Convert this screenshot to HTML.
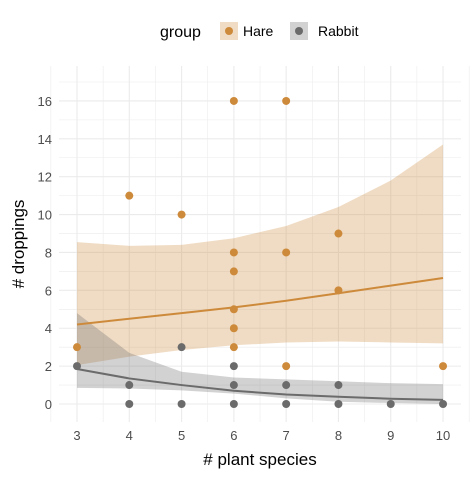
<!DOCTYPE html>
<html><head><meta charset="utf-8"><style>
body{margin:0;background:#fff;font-family:"Liberation Sans",Arial,sans-serif}
</style></head><body>
<svg id="c" width="475" height="475" xmlns="http://www.w3.org/2000/svg">
<g id="grid"></g><g id="bands"></g><g id="lines"></g><g id="pts"></g><g id="axes"></g>
<text x="160" y="37" font-size="16">group</text>
<rect x="220" y="22" width="18" height="18" fill="#cd8a3b" fill-opacity="0.3"/>
<circle cx="229" cy="31" r="4" fill="#cd8a3b"/>
<text x="243" y="36" font-size="14">Hare</text>
<rect x="290" y="22" width="18" height="18" fill="#6b6b6b" fill-opacity="0.3"/>
<circle cx="299" cy="31" r="4" fill="#6b6b6b"/>
<text x="318" y="36" font-size="14">Rabbit</text>
<text x="260" y="465" font-size="17" text-anchor="middle"># plant species</text>
<text transform="translate(24,244) rotate(-90)" font-size="17" text-anchor="middle"># droppings</text>
</svg>
<script>
const xTicks=[3,4,5,6,7,8,9,10];
const yTicks=[0,2,4,6,8,10,12,14,16];
const hareX=[3,4,5,6,6,6,6,6,6,7,7,7,8,8,10];
const hareY=[3,11,10,16,8,7,5,4,3,16,8,2,9,6,2];
const rabbitX=[3,4,4,5,5,6,6,6,7,7,8,8,9,10];
const rabbitY=[2,1,0,3,0,2,1,0,1,0,1,0,0,0];
const fitX=[3,4,5,6,7,8,9,10];
const hareFit=[4.2,4.5,4.8,5.1,5.45,5.85,6.25,6.65];
const hareUp=[8.55,8.35,8.4,8.75,9.4,10.4,11.8,13.7];
const hareLo=[2.05,2.5,2.85,3.1,3.25,3.3,3.25,3.2];
const rabFit=[1.85,1.35,1.0,0.7,0.5,0.38,0.28,0.22];
const rabUp=[4.8,2.7,1.7,1.4,1.3,1.2,1.1,1.05];
const rabLo=[0.85,0.82,0.72,0.55,0.3,0.12,0.05,0.0];
const NS="http://www.w3.org/2000/svg";
const X=v=>77+(v-3)*52.29, Y=v=>404-v*18.94;
const L=59,R=461,T=66,B=422;
function mk(p,t,a){const e=document.createElementNS(NS,t);for(const k in a)e.setAttribute(k,a[k]);document.getElementById(p).appendChild(e);return e;}
for(let v=2.5;v<=10.5;v+=0.5){const maj=Number.isInteger(v);
 const e=mk('grid','line',{x1:X(v),x2:X(v),y1:T,y2:B,stroke:'#ebebeb','stroke-width':maj?1.1:0.55});
 }
for(let v=-1;v<=17;v+=1){const maj=v%2===0;if(Y(v)<T||Y(v)>B)continue;
 const e=mk('grid','line',{x1:L,x2:R,y1:Y(v),y2:Y(v),stroke:'#ebebeb','stroke-width':maj?1.1:0.55});
 }
function band(up,lo,col,name){let d=fitX.map((x,i)=>(i?'L':'M')+X(x)+','+Y(up[i])).join('');
 for(let i=fitX.length-1;i>=0;i--)d+='L'+X(fitX[i])+','+Y(lo[i]);
 const e=mk('bands','path',{d:d+'Z',fill:col,'fill-opacity':0.3});
 }
band(hareUp,hareLo,'#cd8a3b','hare-ci-band');band(rabUp,rabLo,'#6b6b6b','rabbit-ci-band');
function line(f,col,name){const e=mk('lines','polyline',{points:fitX.map((x,i)=>X(x)+','+Y(f[i])).join(' '),fill:'none',stroke:col,'stroke-width':2});
 }
line(hareFit,'#cd8a3b','hare-fit-line');line(rabFit,'#6b6b6b','rabbit-fit-line');
hareX.forEach((x,i)=>{const e=mk('pts','circle',{cx:X(x),cy:Y(hareY[i]),r:4,fill:'#cd8a3b'});
 });
rabbitX.forEach((x,i)=>{const e=mk('pts','circle',{cx:X(x),cy:Y(rabbitY[i]),r:4,fill:'#6b6b6b'});
 });
xTicks.forEach(v=>{const e=mk('axes','text',{x:X(v),y:440,'font-size':13,fill:'#4d4d4d','text-anchor':'middle'});e.textContent=v;
 });
yTicks.forEach(v=>{const e=mk('axes','text',{x:52,y:Y(v)+5,'font-size':13,fill:'#4d4d4d','text-anchor':'end'});e.textContent=v;
 });
</script>
</body></html>
